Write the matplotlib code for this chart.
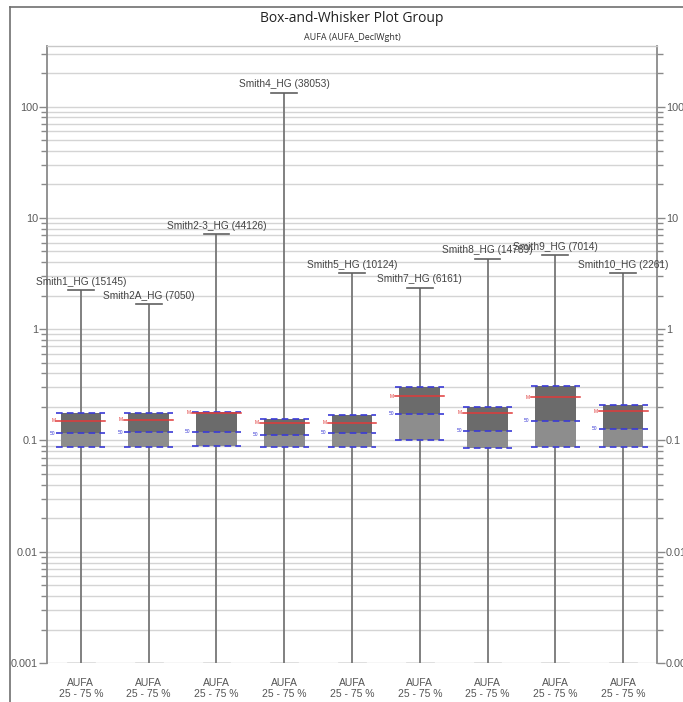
import matplotlib
matplotlib.use("Agg")
import matplotlib.pyplot as plt
from matplotlib.lines import Line2D
from matplotlib.ticker import LogLocator, FixedLocator, NullFormatter
import numpy as np

plt.rcParams['font.family'] = ['Liberation Sans', 'DejaVu Sans']

# ---- data -------------------------------------------------------------
groups = ["Smith1_HG", "Smith2A_HG", "Smith2-3_HG", "Smith4_HG", "Smith5_HG",
          "Smith7_HG", "Smith8_HG", "Smith9_HG", "Smith10_HG"]
counts = [15145, 7050, 44126, 38053, 10124, 6161, 14789, 7014, 2261]
whisker_max = [2.23, 1.67, 7.1, 134, 3.2, 2.37, 4.3, 4.6, 3.18]
whisker_min = [0.001, 0.001, 0.001, 0.001, 0.001, 0.001, 0.001, 0.001, 0.001]
q3 = [0.176, 0.176, 0.180, 0.155, 0.168, 0.305, 0.199, 0.308, 0.209]
means = [0.151, 0.153, 0.178, 0.144, 0.144, 0.250, 0.177, 0.245, 0.183]
medians = [0.116, 0.119, 0.120, 0.112, 0.117, 0.174, 0.122, 0.150, 0.127]
q1 = [0.088, 0.088, 0.090, 0.0865, 0.087, 0.1015, 0.086, 0.088, 0.088]
tick_label = "AUFA\n25 - 75 %"
y_ticks = [0.001, 0.01, 0.1, 1, 10, 100]
y_ticklabels = ["0.001", "0.01", "0.1", "1", "10", "100"]

title = "Box-and-Whisker Plot Group"
subtitle = "AUFA (AUFA_DeclWght)"

# ---- figure -----------------------------------------------------------
fig = plt.figure(figsize=(6.83, 7.02), dpi=100)
ax = fig.add_axes([47 / 683, 1 - 663 / 702, 610 / 683, 617 / 702])
ax.set_yscale("log")
ax.set_ylim(0.001, 351)
ax.set_xlim(0.5, len(groups) + 0.5)

# gridlines at every major and minor log position
grid_c = "#d4d4d4"
for dec in range(-3, 3):
    for m in range(1, 10):
        v = m * 10.0 ** dec
        if 0.001 <= v <= 351:
            ax.axhline(v, color=grid_c, lw=1.0, zorder=0)

axis_c = "#8a8a8a"
for s in ["left", "right"]:
    ax.spines[s].set_color(axis_c)
    ax.spines[s].set_linewidth(1.3)
ax.spines["top"].set_color("#c8c8c8")
ax.spines["top"].set_linewidth(1.0)
ax.spines["bottom"].set_visible(False)

ax.yaxis.set_major_locator(FixedLocator(y_ticks))
ax.yaxis.set_minor_locator(LogLocator(base=10, subs=np.arange(2, 10)))
ax.yaxis.set_minor_formatter(NullFormatter())
ax.set_yticklabels(y_ticklabels)
ax.tick_params(axis="y", which="both", direction="out", colors=axis_c,
               labelcolor="#5a5a5a", labelsize=7.8, left=True, right=True,
               labelleft=True, labelright=True)
ax.tick_params(axis="y", which="major", length=6, width=1.0, pad=0.5)
ax.tick_params(axis="y", which="minor", length=4, width=1.0)

x = np.arange(1, len(groups) + 1)
ax.set_xticks(x)
ax.set_xticklabels([tick_label] * len(groups), fontsize=7.5, color="#555555",
                   linespacing=1.15)
ax.tick_params(axis="x", length=0, pad=11)

box_w = 0.6
line_w = 0.72
cap_w = 0.38
dark = "#6b6b6b"
light = "#8d8d8d"
blue = "#3a3ad6"
red = "#e03a3a"

for i, xi in enumerate(x):
    # whisker and cap
    ax.plot([xi, xi], [whisker_min[i], whisker_max[i]], color="#767676",
            lw=1.3, zorder=2, solid_capstyle="butt")
    ax.plot([xi - cap_w / 2, xi + cap_w / 2], [whisker_max[i]] * 2,
            color="#606060", lw=1.2, zorder=2)
    ax.plot([xi - cap_w / 2, xi + cap_w / 2], [whisker_min[i]] * 2,
            color="#dddddd", lw=2.0, zorder=1)
    ax.annotate(f"{groups[i]} ({counts[i]})", (xi, whisker_max[i]),
                xytext=(0, 2.5), textcoords="offset points", ha="center",
                va="bottom", fontsize=7.3, color="#444444", zorder=5)

    # box: lower quartile to median, median to upper quartile
    ax.fill_between([xi - box_w / 2, xi + box_w / 2], q1[i], medians[i],
                    color=light, lw=0, zorder=3)
    ax.fill_between([xi - box_w / 2, xi + box_w / 2], medians[i], q3[i],
                    color=dark, lw=0, zorder=3)

    # quartile / median dashed lines and mean line
    for v in (q1[i], medians[i], q3[i]):
        ax.plot([xi - line_w / 2, xi + line_w / 2], [v, v], color=blue,
                lw=1.2, ls=(0, (4, 2.5)), zorder=4)
    ax.plot([xi - line_w / 2, xi + line_w / 2], [means[i]] * 2, color=red,
            lw=1.1, zorder=4)
    ax.text(xi - line_w / 2 - 0.02, means[i], "M", color=red, fontsize=3.5,
            ha="right", va="center", zorder=5)
    ax.text(xi - line_w / 2 - 0.02, medians[i], "50", color=blue, fontsize=3.5,
            ha="right", va="center", zorder=5)

# titles, centred over the plot area
cx = (47 + 657) / 2 / 683
fig.text(cx, 1 - 18 / 702, title, ha="center", va="center", fontsize=10,
         color="#222222", family=["Open Sans", "DejaVu Sans"])
fig.text(cx, 1 - 38 / 702, subtitle, ha="center", va="center", fontsize=6.5,
         color="#333333", family=["Open Sans", "DejaVu Sans"])

# surrounding panel frame
fig.add_artist(Line2D([10 / 683, 10 / 683], [0, 1 - 7 / 702],
                      transform=fig.transFigure, color="#707070", lw=1.2))
fig.add_artist(Line2D([10 / 683, 1], [1 - 7 / 702, 1 - 7 / 702],
                      transform=fig.transFigure, color="#707070", lw=1.2))

fig.savefig("out.png", dpi=100, facecolor="white")
